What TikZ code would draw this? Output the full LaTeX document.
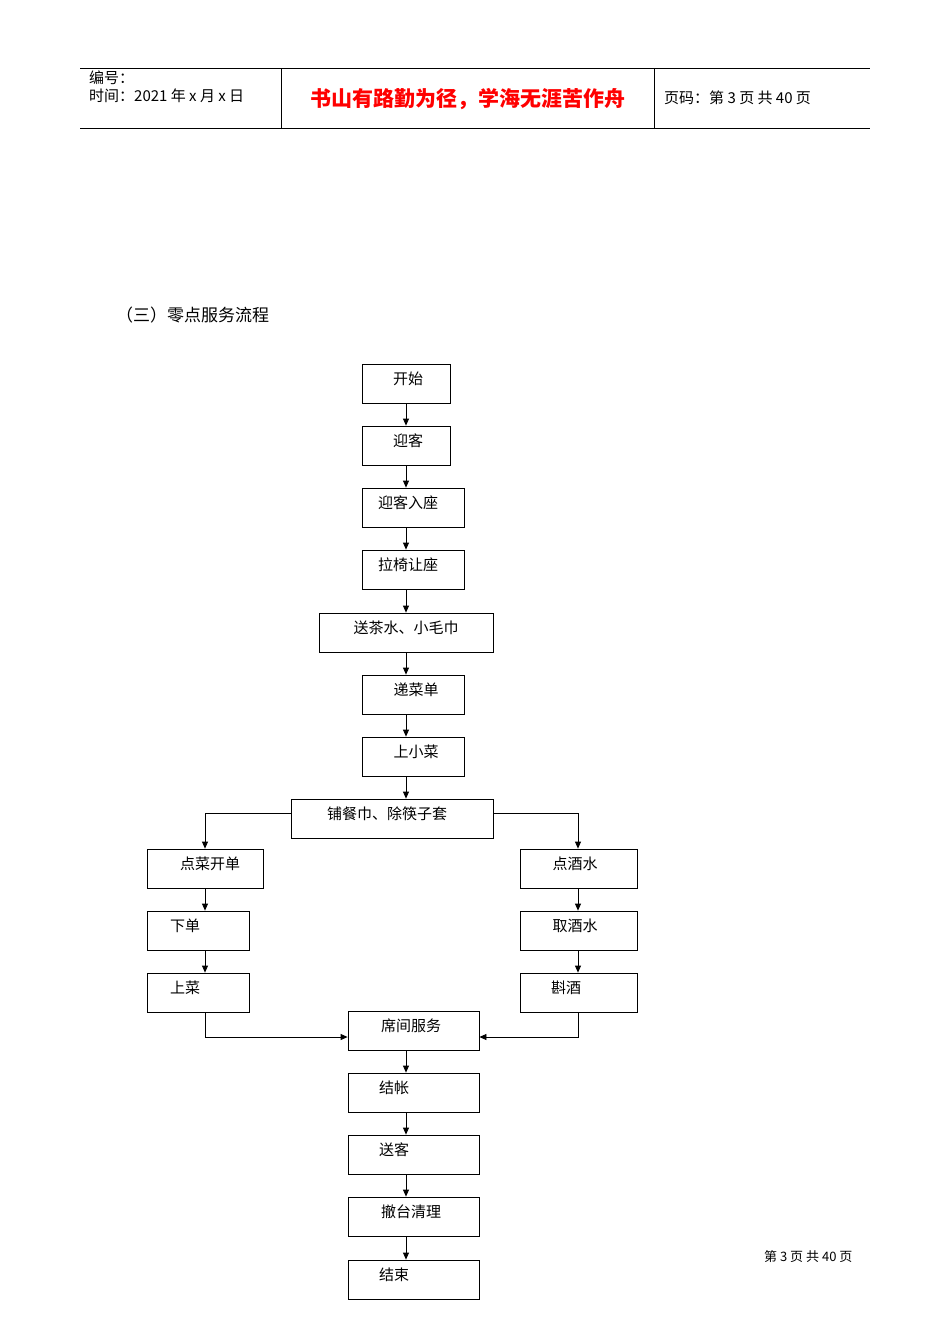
\documentclass[tikz,border=0pt]{standalone}
\usepackage{fontspec}
\newfontfamily\cjk{Noto Sans CJK SC}
\usetikzlibrary{arrows.meta}
\tikzset{bx/.style={draw,line width=0.8pt,inner sep=0pt},
 tx/.style={font=\cjk\fontsize{15}{15}\selectfont,inner sep=0pt},
 ar/.style={-{Triangle[length=7pt,width=6pt]},line width=0.8pt}}
\newcommand{\mybox}[8]{\node[bx,minimum width={#4-#2},minimum height={#5-#3}] (#1) at ({(#2+#4)/2},{-(#3+#5)/2}) {};
 \node[tx] (#1t) at (#6,-#7) {#8};}
\begin{document}
\begin{tikzpicture}[x=1pt,y=1pt]
\useasboundingbox (0,0) rectangle (950,-1344);
\fill[white] (0,0) rectangle (950,-1344);
% header
\draw[line width=0.6pt] (80,-68) coordinate (h1) -- (870,-68) coordinate (h2);
\draw[line width=0.6pt] (80,-128) coordinate (h3) -- (870,-128) coordinate (h4);
\draw[line width=0.6pt] (281,-68) coordinate (v1) -- (281,-128) coordinate (v2);
\draw[line width=0.6pt] (654,-68) coordinate (v3) -- (654,-128) coordinate (v4);
\node[tx,anchor=west,font=\cjk\fontsize{15}{15}\selectfont] (hd1) at (89,-78) {编号：};
\node[tx,anchor=west,font=\cjk\fontsize{15}{15}\selectfont] (hd2) at (89,-96) {时间：2021 年 x 月 x 日};
\node[tx,font=\cjk\bfseries\fontsize{21}{21}\selectfont,text=red] (hd3) at (468,-99) {书山有路勤为径，学海无涯苦作舟};
\node[tx,anchor=west,font=\cjk\fontsize{15}{15}\selectfont] (hd4) at (664,-98) {页码：第 3 页 共 40 页};
\node[tx,anchor=west,font=\cjk\fontsize{17}{17}\selectfont] (title) at (116,-315) {（三）零点服务流程};
\node[tx,anchor=west,font=\cjk\fontsize{13}{13}\selectfont] (foot) at (764,-1257) {第 3 页 共 40 页};
% boxes
\mybox{a}{362}{364}{450}{403}{408}{379}{开始}
\mybox{b}{362}{426}{450}{465}{408}{441}{迎客}
\mybox{c}{362}{488}{464}{527}{408}{503}{迎客入座}
\mybox{d}{362}{550}{464}{589}{408}{565}{拉椅让座}
\mybox{e}{319}{613}{493}{652}{406}{628}{送茶水、小毛巾}
\mybox{f}{362}{675}{464}{714}{416}{690}{递菜单}
\mybox{g}{362}{737}{464}{776}{416}{752}{上小菜}
\mybox{h}{291}{799}{493}{838}{387}{814}{铺餐巾、除筷子套}
\mybox{l1}{147}{849}{263}{888}{210}{864}{点菜开单}
\mybox{l2}{147}{911}{249}{950}{185}{926}{下单}
\mybox{l3}{147}{973}{249}{1012}{185}{988}{上菜}
\mybox{r1}{520}{849}{637}{888}{575}{864}{点酒水}
\mybox{r2}{520}{911}{637}{950}{575}{926}{取酒水}
\mybox{r3}{520}{973}{637}{1012}{566}{988}{斟酒}
\mybox{i}{348}{1011}{479}{1050}{411}{1026}{席间服务}
\mybox{j}{348}{1073}{479}{1112}{394}{1088}{结帐}
\mybox{k}{348}{1135}{479}{1174}{394}{1150}{送客}
\mybox{m}{348}{1197}{479}{1236}{411}{1212}{撤台清理}
\mybox{n}{348}{1260}{479}{1299}{394}{1275}{结束}
% arrows
\foreach \p/\q in {a/b,b/c,c/d,d/e,e/f,f/g,g/h,i/j,j/k,k/m,m/n}
  \draw[ar] (406,0 |- \p.south) -- (406,0 |- \q.north);
\draw[ar] (h.west |- 0,-813) -| (l1.north -| 205,0);
\draw[ar] (h.east |- 0,-813) -| (r1.north -| 578,0);
\draw[ar] (l1.south -| 205,0) -- (l2.north -| 205,0);
\draw[ar] (l2.south -| 205,0) -- (l3.north -| 205,0);
\draw[ar] (r1.south -| 578,0) -- (r2.north -| 578,0);
\draw[ar] (r2.south -| 578,0) -- (r3.north -| 578,0);
\draw[ar] (l3.south -| 205,0) |- (i.west |- 0,-1037);
\draw[ar] (r3.south -| 578,0) |- (i.east |- 0,-1037);
\end{tikzpicture}
\end{document}
